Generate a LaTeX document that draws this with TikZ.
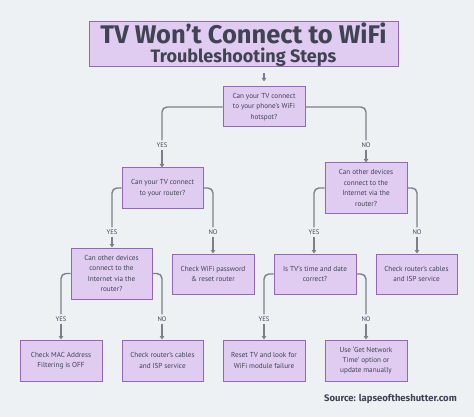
\documentclass[tikz,border=0pt]{standalone}
\usepackage{fontspec}
\setmainfont{PT Sans}
\newfontfamily\titlefont{Fira Sans}
\usetikzlibrary{arrows.meta}

\definecolor{bgcol}{HTML}{EEF1F4}
\definecolor{boxfill}{HTML}{E0CBF1}
\definecolor{boxline}{HTML}{9466BA}
\definecolor{textcol}{HTML}{404354}
\definecolor{linecol}{HTML}{7C8089}

\tikzset{
  stepbox/.style={draw=boxline, fill=boxfill, line width=1pt, text=textcol, align=center,
    minimum width=82pt, minimum height=40pt, inner sep=0pt,
    font=\fontsize{7.2}{10.4}\selectfont},
  tag/.style={text=textcol, inner sep=2pt, font=\fontsize{6.6}{7}\selectfont},
  link/.style={draw=linecol, line width=1.4pt, rounded corners=5pt},
  arr/.style={draw=linecol, line width=1.4pt, -{Triangle[length=3.5pt,width=4.5pt]}}
}

\begin{document}
\begin{tikzpicture}[x=1pt,y=-1pt]
\useasboundingbox (0,0) rectangle (474,417);
\fill[bgcol] (0,0) rectangle (474,417);

% title
\node[stepbox, minimum width=309pt, minimum height=45pt, font=\titlefont\bfseries] (title) at (243.5,44.5)
  {{\fontsize{25.5}{25}\selectfont TV Won’t Connect to WiFi}\\[3pt]
   {\fontsize{18}{18}\selectfont Troubleshooting Steps}};

% questions and answers
\node[stepbox] (q1) at (264,107) {Can your TV connect\\to your phone’s WiFi\\hotspot?};
\node[stepbox, minimum width=81pt] (q2) at (162.5,188) {Can your TV connect\\to your router?};
\node[stepbox, minimum height=50pt] (q3) at (366,188) {Can other devices\\connect to the\\Internet via the\\router?};
\node[stepbox, minimum width=81pt, minimum height=51pt] (q4) at (111.5,273.5) {Can other devices\\connect to the\\Internet via the\\router?};
\node[stepbox] (a2) at (213,274) {Check WiFi password\\\& reset router};
\node[stepbox] (q5) at (315,274) {Is TV’s time and date\\correct?};
\node[stepbox, minimum width=81pt] (a3) at (416.5,274) {Check router’s cables\\and ISP service};
\node[stepbox, minimum height=41pt] (b1) at (61,360.5) {Check MAC Address\\Filtering is OFF};
\node[stepbox, minimum width=81pt, minimum height=41pt] (b2) at (162.5,360.5) {Check router’s cables\\and ISP service};
\node[stepbox, minimum height=41pt] (b3) at (264,360.5) {Reset TV and look for\\WiFi module failure};
\node[stepbox, minimum height=41pt] (b4) at (366,360.5) {Use ‘Get Network\\Time’ option or\\update manually};

% yes / no labels
\node[tag] (yes1) at (162,145) {YES};
\node[tag] (no1) at (366,145) {NO};
\node[tag] (yes2) at (112,232) {YES};
\node[tag] (no2) at (213,232) {NO};
\node[tag] (yes3) at (314,232) {YES};
\node[tag] (no3) at (417,232) {NO};
\node[tag] (yes4) at (61,319) {YES};
\node[tag] (no4) at (162,319) {NO};
\node[tag] (yes5) at (264,319) {YES};
\node[tag] (no5) at (366,319) {NO};

% connectors
\draw[arr] ([yshift=-6pt]q1.north |- title.south) -- ([yshift=5pt]q1.north);
\draw[link] (q1.west) -| (yes1.north);
\draw[link] (q1.east) -| (no1.north);
\draw[link] (q2.west) -| (yes2.north);
\draw[link] (q2.east) -| (no2.north);
\draw[link] (q3.west) -| (yes3.north);
\draw[link] (q3.east) -| (no3.north);
\draw[link] (q4.west) -| (yes4.north);
\draw[link] (q4.east) -| (no4.north);
\draw[link] (q5.west) -| (yes5.north);
\draw[link] (q5.east) -| (no5.north);
\draw[arr] (yes1.south) -- (yes1.south |- q2.north);
\draw[arr] (no1.south) -- (no1.south |- q3.north);
\draw[arr] (yes2.south) -- (yes2.south |- q4.north);
\draw[arr] (no2.south) -- (no2.south |- a2.north);
\draw[arr] (yes3.south) -- (yes3.south |- q5.north);
\draw[arr] (no3.south) -- (no3.south |- a3.north);
\draw[arr] (yes4.south) -- (yes4.south |- b1.north);
\draw[arr] (no4.south) -- (no4.south |- b2.north);
\draw[arr] (yes5.south) -- (yes5.south |- b3.north);
\draw[arr] (no5.south) -- (no5.south |- b4.north);

% source
\node[text=textcol, anchor=east, inner sep=0pt, font=\titlefont\bfseries\fontsize{9.5}{10}\selectfont] (src) at (457,399) {Source: lapseoftheshutter.com};
\end{tikzpicture}
\end{document}
